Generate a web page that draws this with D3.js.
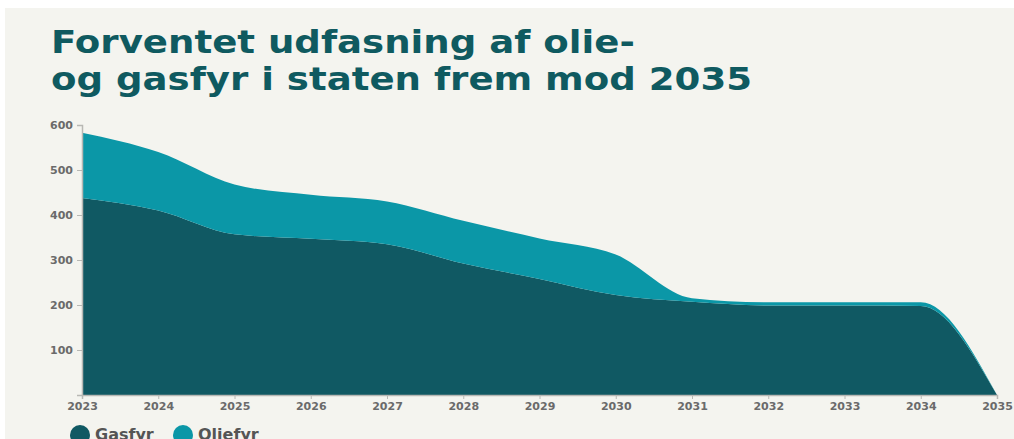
<!DOCTYPE html>
<html>
<head>
<meta charset="utf-8">
<script src="https://cdn.jsdelivr.net/npm/d3@7"></script>
<style>
  html, body { margin: 0; padding: 0; background: #fff; }
  svg { display: block; }
</style>
</head>
<body>
<svg width="1014" height="439"></svg>
<script>
// data
const years = [2023, 2024, 2025, 2026, 2027, 2028, 2029, 2030, 2031, 2032, 2033, 2034, 2035];
const gasfyr = [438, 410, 357, 347, 335, 292, 258, 222, 207, 199, 199, 198, 0];
const oliefyr = [145, 130, 111, 98, 95, 95, 90, 90, 8, 7, 7, 8, 0];
const yTicks = [100, 200, 300, 400, 500, 600];
const seriesNames = ["Gasfyr", "Oliefyr"];
const colors = ["#105963", "#0b97a7"];

const font = "'DejaVu Sans', sans-serif";

const svg = d3.select("svg"),
    width = +svg.attr("width"),
    height = +svg.attr("height");

svg.append("rect")
    .attr("x", 5).attr("y", 8)
    .attr("width", width - 5).attr("height", height - 8)
    .attr("fill", "#f4f4ef");

// title is set wider than the font's natural width in the original
const title = svg.append("text")
    .attr("transform", "translate(51,53) scale(1.16,1)")
    .style("font-family", font)
    .style("font-weight", 700)
    .style("font-size", "32px")
    .style("fill", "#0f5a60");
title.append("tspan").attr("x", 0).text("Forventet udfasning af olie-");
title.append("tspan").attr("x", 0).attr("dy", 37).text("og gasfyr i staten frem mod 2035");

const table = years.map((y, i) => ({ year: y, Gasfyr: gasfyr[i], Oliefyr: oliefyr[i] }));
const stacked = d3.stack().keys(seriesNames)(table);

const x = d3.scaleLinear().domain([2023, 2035]).range([82, 997]);
const yScale = d3.scaleLinear().domain([0, 600]).range([395, 125]);

const area = d3.area()
    .curve(d3.curveMonotoneX)
    .x(d => x(d.data.year))
    .y0(d => yScale(d[0]))
    .y1(d => yScale(d[1]));

svg.append("g")
    .selectAll("path")
    .data(stacked)
    .enter().append("path")
    .attr("d", area)
    .attr("fill", (d, i) => colors[i]);

const xAxis = svg.append("g")
    .attr("transform", "translate(0,395)")
    .call(d3.axisBottom(x).tickValues(years).tickFormat(d3.format("d")).tickSize(4).tickPadding(3));

const yAxis = svg.append("g")
    .attr("transform", "translate(82,0)")
    .call(d3.axisLeft(yScale).tickValues(yTicks).tickSize(5).tickPadding(4));

[xAxis, yAxis].forEach(a => {
    a.select(".domain").attr("stroke", "#b8b8b4").attr("stroke-width", 1.5);
    a.selectAll(".tick line").attr("stroke", "#b8b8b4");
    a.selectAll("text")
        .style("font-family", font)
        .style("font-weight", 700)
        .style("font-size", "11px")
        .style("fill", "#6a6a6a");
});

const legend = svg.append("g")
    .selectAll("g")
    .data(seriesNames)
    .enter().append("g")
    .attr("transform", (d, i) => `translate(${80 + i * 103},435)`);

legend.append("circle")
    .attr("r", 10)
    .attr("fill", (d, i) => colors[i]);

legend.append("text")
    .attr("x", 15)
    .attr("dy", 5)
    .style("font-family", font)
    .style("font-weight", 700)
    .style("font-size", "16px")
    .style("fill", "#555")
    .text(d => d);
</script>
</body>
</html>
